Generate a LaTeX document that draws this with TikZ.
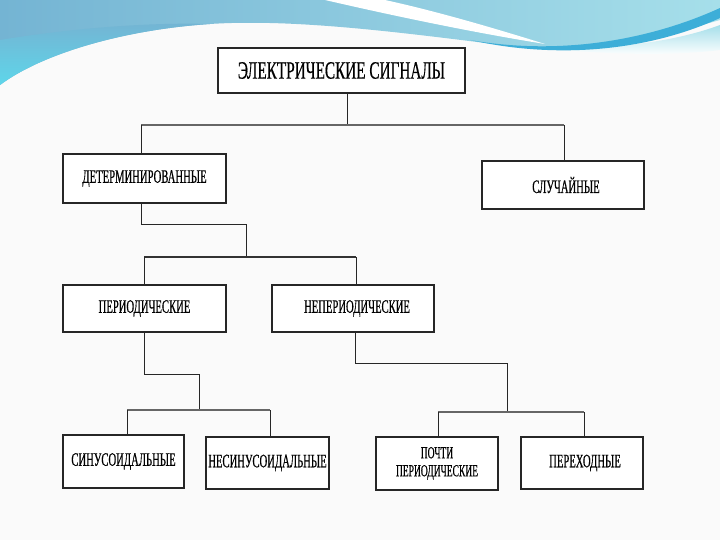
\documentclass[tikz,border=0pt]{standalone}
\usepackage{fontspec}
\newfontfamily\titlefont{Liberation Serif}[FakeStretch=0.61,FakeBold=0.5]
\newfontfamily\boxfont{Liberation Serif}[FakeStretch=0.56,FakeBold=0.5]
\definecolor{skyA}{HTML}{74B4D3}
\definecolor{skyB}{HTML}{A6DFEA}
\definecolor{skyC}{HTML}{5ED6EA}
\definecolor{swoosh}{HTML}{3DAED8}
\begin{document}
\begin{tikzpicture}[x=1pt,y=-1pt,
  box/.style={draw=black!85, line width=1.2pt, fill=white, rectangle, inner sep=0pt,
    font=\boxfont\fontsize{19}{16}\selectfont, align=center},
  conn/.style={draw=black!85, line width=1pt},
  bar/.style={draw=black!60, line width=2.6pt}]
\useasboundingbox (0,0) rectangle (720,540);
\fill[white!98!black] (0,0) rectangle (720,540);
% decorative top
\shade[left color=skyA, right color=skyB]
  (0,0) -- (720,0) -- (720,20) .. controls (650,40) and (580,52) .. (525,48)
  .. controls (420,35) and (300,18) .. (210,24)
  .. controls (120,30) and (40,55) .. (0,85) -- cycle;
\shade[top color=skyA, bottom color=skyC]
  (0,40) .. controls (60,30) and (140,22) .. (210,24)
  .. controls (120,30) and (40,55) .. (0,85) -- cycle;
\fill[white]
  (325,0) -- (385,0) .. controls (440,12) and (500,30) .. (545,44)
  .. controls (470,32) and (390,15) .. (325,0) -- cycle;
\shade[top color=skyB, bottom color=white]
  (545,48) .. controls (620,50) and (680,40) .. (720,25) -- (720,50)
  .. controls (680,55) and (620,56) .. (545,48) -- cycle;
\fill[swoosh]
  (470,40) .. controls (560,56) and (650,40) .. (720,8) -- (720,18)
  .. controls (650,50) and (560,60) .. (470,40) -- cycle;
% boxes
\node[box, minimum width=247pt, minimum height=45pt, font=\titlefont\fontsize{25}{25}\selectfont]
  (top) at (341.5,70.5) {ЭЛЕКТРИЧЕСКИЕ СИГНАЛЫ};
\node[box, minimum width=163pt, minimum height=49pt] (det) at (144.5,178.5) {ДЕТЕРМИНИРОВАННЫЕ};
\node[box, minimum width=162pt, minimum height=48pt] (slu) at (563,185) {\hspace*{6pt}СЛУЧАЙНЫЕ};
\node[box, minimum width=163pt, minimum height=47pt] (per) at (144.5,308.5) {ПЕРИОДИЧЕСКИЕ};
\node[box, minimum width=162pt, minimum height=47pt] (nep) at (353,308.5) {\hspace*{8pt}НЕПЕРИОДИЧЕСКИЕ};
\node[box, minimum width=121pt, minimum height=53pt] (sin) at (123.5,461.5) {СИНУСОИДАЛЬНЫЕ};
\node[box, minimum width=123pt, minimum height=52pt] (nes) at (267.5,463) {НЕСИНУСОИДАЛЬНЫЕ};
\node[box, minimum width=122pt, minimum height=53pt, font=\boxfont\fontsize{17}{18}\selectfont]
  (poc) at (437,463.5) {ПОЧТИ\\ПЕРИОДИЧЕСКИЕ};
\node[box, minimum width=122pt, minimum height=52pt] (pxd) at (582,463) {\hspace*{6pt}ПЕРЕХОДНЫЕ};
% junction coordinates
\coordinate (j1) at (347,125);
\coordinate (b1l) at (141,125);
\coordinate (b1r) at (564,125);
\coordinate (k1) at (141,225);
\coordinate (k2) at (246,225);
\coordinate (j2) at (246,257);
\coordinate (b2l) at (144,257);
\coordinate (b2r) at (356,257);
\coordinate (k3) at (144,374);
\coordinate (k4) at (199,374);
\coordinate (j3) at (199,410);
\coordinate (b3l) at (127,410);
\coordinate (b3r) at (270,410);
\coordinate (k5) at (355,363);
\coordinate (k6) at (507,363);
\coordinate (j4) at (507,412);
\coordinate (b4l) at (438,412);
\coordinate (b4r) at (584,412);
% connectors
\draw[conn] (top.south -| j1) -- (j1);
\draw[bar] (b1l) -- (b1r);
\draw[conn] (b1l) -- (b1l |- det.north);
\draw[conn] (b1r) -- (b1r |- slu.north);
\draw[conn] (det.south -| k1) -- (k1) -- (k2) -- (j2);
\draw[bar, draw=black!80, line width=1.8pt] (b2l) -- (b2r);
\draw[conn] (b2l) -- (b2l |- per.north);
\draw[conn] (b2r) -- (b2r |- nep.north);
\draw[conn] (per.south -| k3) -- (k3) -- (k4) -- (j3);
\draw[bar] (b3l) -- (b3r);
\draw[conn] (b3l) -- (b3l |- sin.north);
\draw[conn] (b3r) -- (b3r |- nes.north);
\draw[conn] (nep.south -| k5) -- (k5) -- (k6) -- (j4);
\draw[bar] (b4l) -- (b4r);
\draw[conn] (b4l) -- (b4l |- poc.north);
\draw[conn] (b4r) -- (b4r |- pxd.north);
\end{tikzpicture}
\end{document}
